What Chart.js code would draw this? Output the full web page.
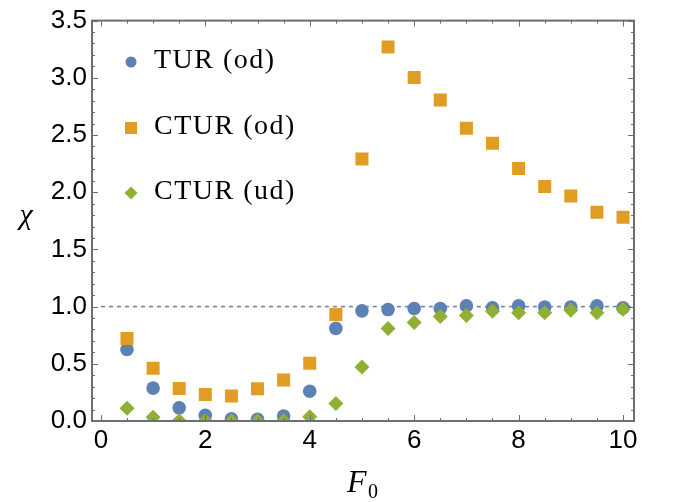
<!DOCTYPE html>
<html>
<head>
<meta charset="utf-8">
<script src="https://cdn.jsdelivr.net/npm/chart.js@4.4.1/dist/chart.umd.min.js"></script>
<style>
  html, body { margin: 0; padding: 0; background: #fff; }
</style>
</head>
<body>
<canvas id="chart" width="677" height="502"></canvas>
<script>
// driving amplitude F0
var f0 = [0.5, 1, 1.5, 2, 2.5, 3, 3.5, 4, 4.5, 5, 5.5, 6, 6.5, 7, 7.5, 8, 8.5, 9, 9.5, 10];
var turOd = [0.625, 0.287, 0.115, 0.05, 0.02, 0.015, 0.043, 0.26, 0.81, 0.963,
             0.974, 0.983, 0.983, 1.006, 0.989, 1.006, 0.997, 0.997, 1.006, 0.989];
var cturOd = [0.722, 0.461, 0.284, 0.232, 0.218, 0.281, 0.358, 0.505, 0.931, 2.29,
              3.27, 3.003, 2.806, 2.56, 2.427, 2.207, 2.049, 1.966, 1.825, 1.782];
var cturUd = [0.112, 0.032, 0.003, 0.002, 0.001, 0.001, 0.002, 0.037, 0.152, 0.473,
              0.808, 0.86, 0.914, 0.923, 0.96, 0.946, 0.946, 0.969, 0.946, 0.977];
var seriesNames = ['TUR (od)', 'CTUR (od)', 'CTUR (ud)'];
var refLevel = 1.0;
var xTicks = [0, 2, 4, 6, 8, 10];
var yTicks = [0, 0.5, 1, 1.5, 2, 2.5, 3, 3.5];

var blue = '#5E81B5', orange = '#E19C24', green = '#8FB032';

function pts(ys) {
    return f0.map(function(x, i) { return {x: x, y: ys[i]}; });
}

function marker(ctx, style, x, y, r, color) {
    ctx.fillStyle = color;
    ctx.beginPath();
    if (style == 'circle') {
        ctx.arc(x, y, r, 0, Math.PI * 2);
    } else if (style == 'rect') {
        ctx.rect(x - r, y - r, 2 * r, 2 * r);
    } else {
        ctx.moveTo(x, y - r); ctx.lineTo(x + r, y); ctx.lineTo(x, y + r); ctx.lineTo(x - r, y);
        ctx.closePath();
    }
    ctx.fill();
}

// frame, inward ticks, legend and axis titles
var decor = {
    id: 'decor',
    afterDraw: function(chart) {
        var ctx = chart.ctx, a = chart.chartArea;
        var xs = chart.scales.x, ys = chart.scales.y;
        ctx.save();
        ctx.strokeStyle = '#6e6e6e';
        ctx.lineWidth = 1;
        ctx.beginPath();
        for (var v = 0; v <= 10.001; v += 0.5) {
            var px = Math.round(xs.getPixelForValue(v)) + 0.5;
            var len = (Math.abs(v / 2 - Math.round(v / 2)) < 1e-6) ? 6 : 3;
            ctx.moveTo(px, a.bottom); ctx.lineTo(px, a.bottom - len);
            ctx.moveTo(px, a.top); ctx.lineTo(px, a.top + len);
        }
        for (var k = 0; k <= 35; k++) {
            var py = Math.round(ys.getPixelForValue(k / 10)) + 0.5;
            var l = (k % 5 == 0) ? 6 : 3;
            ctx.moveTo(a.left, py); ctx.lineTo(a.left + l, py);
            ctx.moveTo(a.right, py); ctx.lineTo(a.right - l, py);
        }
        ctx.stroke();
        ctx.lineWidth = 2;
        ctx.strokeRect(a.left, a.top, a.right - a.left, a.bottom - a.top);

        // legend
        var styles = ['circle', 'rect', 'diamond'];
        var colors = [blue, orange, green];
        var sizes = [5.5, 6, 6.5];
        var rows = [62, 128, 193];
        ctx.font = '28px "Liberation Serif"';
        ctx.letterSpacing = '1.5px';
        ctx.textBaseline = 'alphabetic';
        for (var i = 0; i < 3; i++) {
            marker(ctx, styles[i], 131, rows[i], sizes[i], colors[i]);
            ctx.fillStyle = '#000';
            ctx.fillText(seriesNames[i], 154, rows[i] + 6);
        }
        ctx.letterSpacing = '0px';

        // axis titles
        ctx.fillStyle = '#000';
        ctx.font = 'italic 30px "Liberation Serif"';
        ctx.textAlign = 'center';
        ctx.fillText('\u03C7', 26, 224);
        ctx.textAlign = 'left';
        ctx.font = 'italic 32px "Liberation Serif"';
        ctx.fillText('F', 347, 492);
        ctx.font = '20px "Liberation Serif"';
        ctx.fillText('0', 368, 498);
        ctx.restore();
    }
};

var ctx = document.getElementById('chart');
var chart = new Chart(ctx, {
    type: 'scatter',
    data: {
        datasets: [
            {
                label: seriesNames[2],
                data: pts(cturUd),
                pointStyle: 'rectRot',
                pointRadius: 7.5,
                backgroundColor: green,
                borderWidth: 0,
                order: 1
            },
            {
                label: seriesNames[1],
                data: pts(cturOd),
                pointStyle: 'rect',
                pointRadius: 9.2,
                backgroundColor: orange,
                borderWidth: 0,
                order: 2
            },
            {
                label: seriesNames[0],
                data: pts(turOd),
                pointStyle: 'circle',
                pointRadius: 6.8,
                backgroundColor: blue,
                borderWidth: 0,
                order: 3
            },
            {
                label: 'ref',
                data: [{x: 0, y: refLevel}, {x: 10.15, y: refLevel}],
                showLine: true,
                pointRadius: 0,
                borderColor: blue,
                borderWidth: 1.5,
                borderDash: [4, 4],
                order: 4
            }
        ]
    },
    options: {
        responsive: false,
        animation: false,
        events: [],
        layout: { padding: { left: 0, top: 14, right: 43, bottom: 0 } },
        plugins: {
            legend: { display: false },
            tooltip: { enabled: false }
        },
        scales: {
            x: {
                type: 'linear',
                min: -0.17,
                max: 10.21,
                afterBuildTicks: function(s) { s.ticks = xTicks.map(function(v) { return {value: v}; }); },
                afterFit: function(s) { s.height = 81; },
                grid: { display: false, drawTicks: false },
                border: { display: false },
                ticks: {
                    color: '#000',
                    padding: 4,
                    maxRotation: 0,
                    autoSkip: false,
                    font: { family: 'Liberation Sans', size: 26 }
                }
            },
            y: {
                min: 0,
                max: 3.5,
                afterBuildTicks: function(s) { s.ticks = yTicks.map(function(v) { return {value: v}; }); },
                afterFit: function(s) { s.width = 92; },
                grid: { display: false, drawTicks: false },
                border: { display: false },
                ticks: {
                    color: '#000',
                    padding: 5,
                    autoSkip: false,
                    font: { family: 'Liberation Sans', size: 26 },
                    callback: function(v) { return v.toFixed(1); }
                }
            }
        }
    },
    plugins: [decor]
});
</script>
</body>
</html>
